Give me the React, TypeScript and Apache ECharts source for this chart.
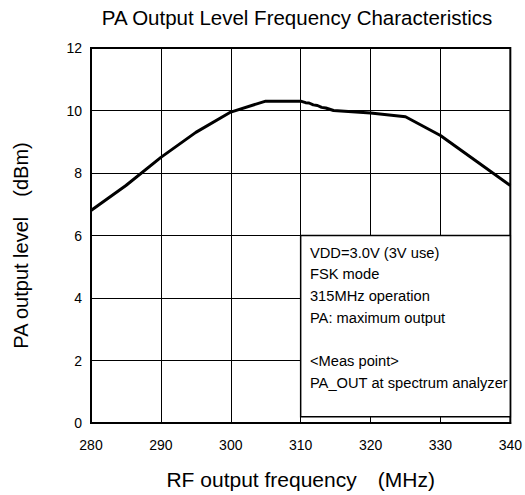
import React, { useEffect, useRef } from "react";
import * as echarts from "echarts";

const freqMHz = [280, 285, 290, 295, 300, 305, 310, 310.7, 311.2, 311.8, 312.4, 313, 313.6, 314.7, 320, 325, 330, 335, 340];
const levelDbm = [6.8, 7.6, 8.5, 9.3, 9.95, 10.3, 10.3, 10.25, 10.24, 10.18, 10.16, 10.1, 10.08, 10.0, 9.92, 9.8, 9.2, 8.4, 7.6];
const boxCorners = [[310, 6], [340, 0.2]];
const noteLines = [
  "VDD=3.0V (3V use)",
  "FSK mode",
  "315MHz operation",
  "PA: maximum output",
  "",
  "<Meas point>",
  "PA_OUT at spectrum analyzer",
];

const FONT = "Liberation Sans, Arial, sans-serif";

export default function App() {
  const ref = useRef<HTMLDivElement>(null);
  useEffect(() => {
    const chart = echarts.init(ref.current!, null, { renderer: "svg" });
    chart.setOption({
      animation: false,
      backgroundColor: "#fff",
      textStyle: { fontFamily: FONT },
      title: {
        text: "PA Output Level Frequency Characteristics",
        left: 292,
        textAlign: "center",
        top: 2,
        textStyle: { fontFamily: FONT, fontSize: 20.5, fontWeight: "normal", color: "#000" },
      },
      grid: {
        left: 91,
        top: 48,
        right: 12,
        bottom: 70,
        show: true,
        borderColor: "#000",
        borderWidth: 2,
        backgroundColor: "transparent",
      },
      xAxis: {
        type: "value",
        min: 280,
        max: 340,
        interval: 10,
        name: "RF output frequency\u3000(MHz)",
        nameLocation: "middle",
        nameGap: 46,
        nameTextStyle: { fontFamily: FONT, fontSize: 21, color: "#000" },
        axisLine: { show: true, lineStyle: { color: "#000", width: 2 } },
        axisTick: { show: false },
        axisLabel: { color: "#000", fontSize: 14, fontFamily: FONT, margin: 15 },
        splitLine: { show: true, lineStyle: { color: "#000", width: 1 } },
      },
      yAxis: {
        type: "value",
        min: 0,
        max: 12,
        interval: 2,
        name: "PA output level\u3000(dBm)",
        nameLocation: "middle",
        nameGap: 60,
        nameTextStyle: { fontFamily: FONT, fontSize: 20, color: "#000", padding: [0, 20, 0, 0] },
        axisLine: { show: true, lineStyle: { color: "#000", width: 2 } },
        axisTick: { show: false },
        axisLabel: { color: "#000", fontSize: 14, fontFamily: FONT, margin: 9 },
        splitLine: { show: true, lineStyle: { color: "#000", width: 1 } },
      },
      series: [
        {
          type: "line",
          data: freqMHz.map((f, i) => [f, levelDbm[i]]),
          showSymbol: false,
          lineStyle: { color: "#000", width: 3 },
          z: 5,
          markArea: {
            silent: true,
            itemStyle: { color: "#fff", borderColor: "#000", borderWidth: 1.5, opacity: 1 },
            label: {
              show: true,
              position: "insideTopLeft",
              distance: 0,
              padding: [7, 0, 0, 10],
              formatter: noteLines.join("\n"),
              fontFamily: FONT,
              fontSize: 14.7,
              lineHeight: 21.7,
              color: "#000",
            },
            data: [[{ coord: boxCorners[0] }, { coord: boxCorners[1] }]],
          },
        },
      ],
    });
    return () => chart.dispose();
  }, []);
  return (
    <div
      ref={ref}
      style={{ position: "fixed", left: 0, top: 0, width: 525, height: 495 }}
    />
  );
}
